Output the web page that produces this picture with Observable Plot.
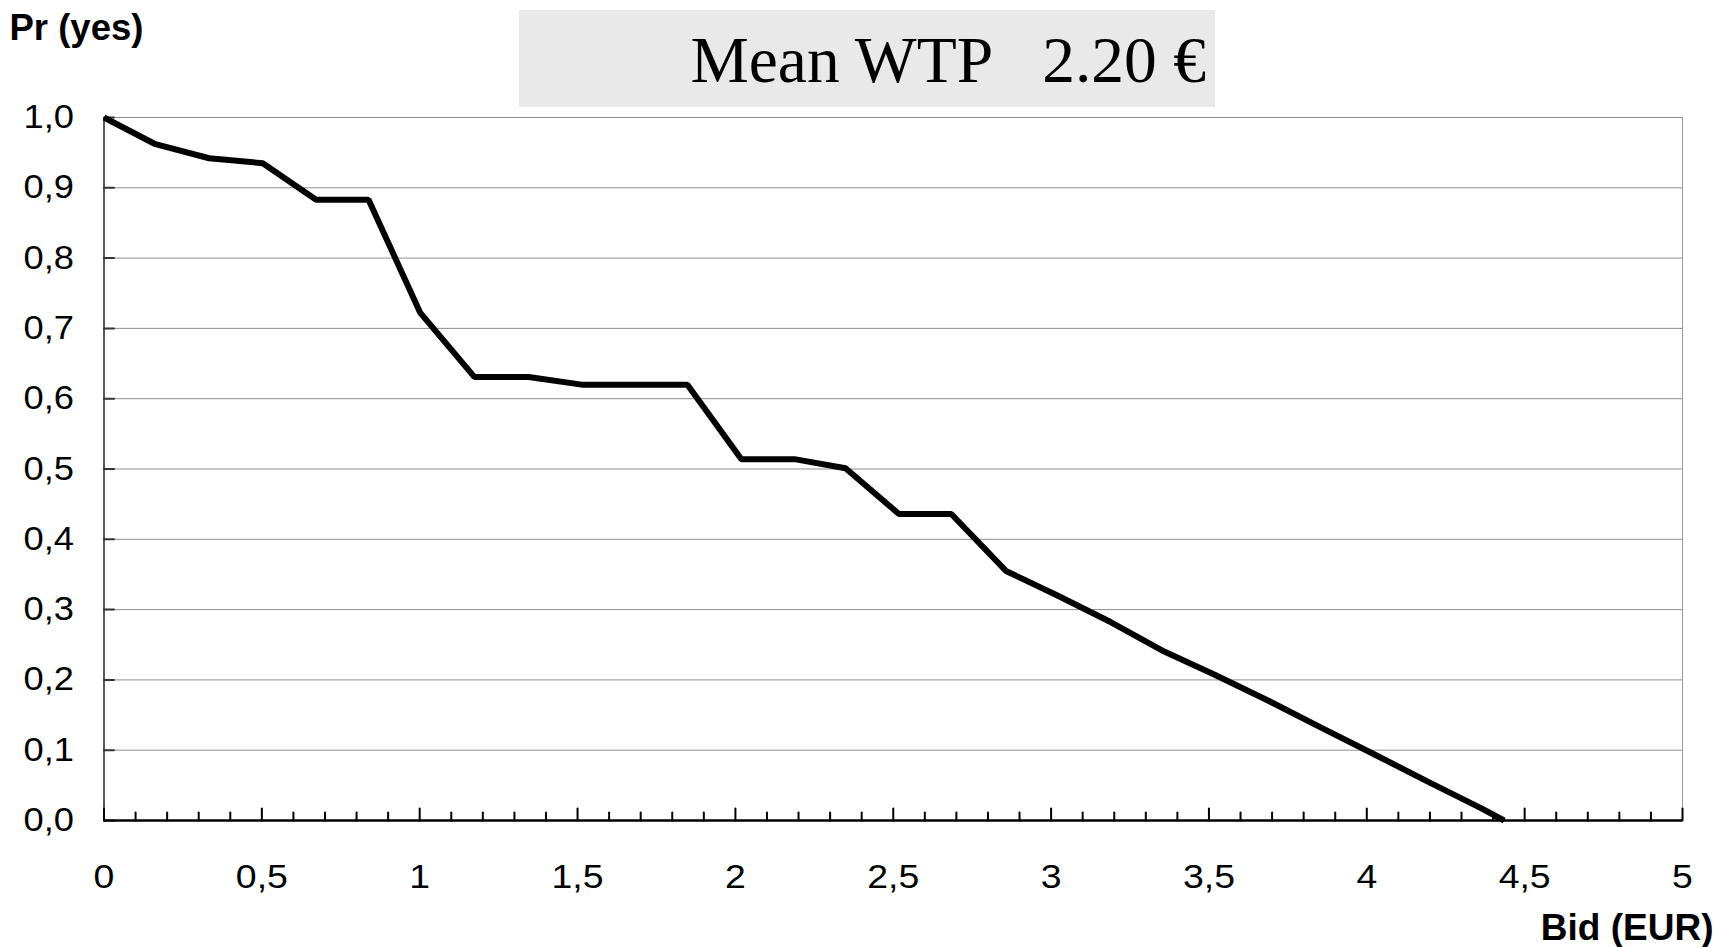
<!DOCTYPE html>
<html>
<head>
<meta charset="utf-8">
<script src="https://cdn.jsdelivr.net/npm/d3@7"></script>
<script src="https://cdn.jsdelivr.net/npm/@observablehq/plot@0.6"></script>
<style>
  html, body { margin: 0; padding: 0; background: #fff; }
  #wrap { position: relative; width: 1713px; height: 947px; overflow: hidden; }
  #title { position: absolute; left: 519px; top: 10px; width: 696px; height: 97px; background: #e9e9e9; }
  #title span { position: absolute; right: 9px; top: 17.6px; font-family: "Liberation Serif", "Times New Roman", serif;
    font-size: 65.5px; line-height: 65px; white-space: pre; color: #000; }
</style>
</head>
<body>
<div id="wrap"><div id="title"><span id="titleText"></span></div></div>
<script>
// ---- data ----
const bids = [0, 0.163, 0.333, 0.503, 0.672, 0.838, 1.002, 1.173, 1.345, 1.513, 1.68, 1.848,
  2.019, 2.187, 2.349, 2.518, 2.684, 2.857, 3.02, 3.19, 3.36, 3.52, 3.69, 3.86, 4.02, 4.19, 4.36, 4.435];
const prYes = [1.0, 0.962, 0.942, 0.935, 0.883, 0.883, 0.722, 0.631, 0.631, 0.620, 0.620, 0.620,
  0.514, 0.514, 0.501, 0.436, 0.436, 0.355, 0.320, 0.282, 0.240, 0.207, 0.170, 0.131, 0.095, 0.056, 0.018, 0.0];

const yTicks = [0, 0.1, 0.2, 0.3, 0.4, 0.5, 0.6, 0.7, 0.8, 0.9, 1.0];
const yTickLabels = ["0,0", "0,1", "0,2", "0,3", "0,4", "0,5", "0,6", "0,7", "0,8", "0,9", "1,0"];
const xTicks = [0, 0.5, 1, 1.5, 2, 2.5, 3, 3.5, 4, 4.5, 5];
const xTickLabels = ["0", "0,5", "1", "1,5", "2", "2,5", "3", "3,5", "4", "4,5", "5"];
const xMinorTicks = d3.range(51).map(i => i / 10).filter(v => Math.abs(v * 2 - Math.round(v * 2)) > 1e-9);

const titleText = "Mean WTP\u00a0\u00a0\u00a02.20 \u20ac";
const yLabel = "Pr (yes)";
const xLabel = "Bid (EUR)";

// ---- build ----
document.getElementById("titleText").textContent = titleText;

const points = bids.map((b, i) => ({bid: b, pr: prYes[i]}));
const yLabMap = new Map(yTicks.map((v, i) => [v, yTickLabels[i]]));
const xLabMap = new Map(xTicks.map((v, i) => [v, xTickLabels[i]]));
const lineShape = {draw(context, l) { context.moveTo(0, 0); context.lineTo(0, -l); }};

const W = 1713, H = 947;
const mL = 103.5, mR = 31, mT = 117, mB = 127;

const chart = Plot.plot({
  width: W, height: H,
  marginLeft: mL, marginRight: mR, marginTop: mT, marginBottom: mB,
  x: {domain: [0, 5]},
  y: {domain: [0, 1]},
  style: {fontFamily: "'Liberation Sans', Arial, sans-serif", background: "white", color: "black"},
  marks: [
    Plot.gridY(yTicks, {stroke: "#8f8f8f", strokeOpacity: 1, strokeWidth: 1}),
    Plot.ruleX([5], {stroke: "#9a9a9a", strokeWidth: 1}),
    Plot.ruleX([0], {stroke: "#222", strokeWidth: 1.5}),
    Plot.vector(yTicks, {y: d => d, frameAnchor: "left", rotate: 90, length: 10, anchor: "start",
      shape: lineShape, stroke: "#333", strokeWidth: 2}),
    Plot.axisY(yTicks, {tickSize: 0, tickPadding: 30, tickFormat: d => yLabMap.get(d), fontSize: 33,
      label: null, fill: "black"}),
    Plot.axisX(xTicks, {tickSize: 0, tickPadding: 43, tickFormat: d => xLabMap.get(d), fontSize: 34,
      label: null, fill: "black"}),
    Plot.line(points, {x: "bid", y: "pr", stroke: "black", strokeWidth: 6,
      strokeLinejoin: "miter", strokeLinecap: "butt"}),
    Plot.ruleY([0], {stroke: "black", strokeWidth: 2.5}),
    Plot.vector(xMinorTicks, {x: d => d, frameAnchor: "bottom", length: 8, anchor: "start",
      shape: lineShape, stroke: "black", strokeWidth: 2}),
    Plot.vector(xTicks, {x: d => d, frameAnchor: "bottom", length: 12, anchor: "start",
      shape: lineShape, stroke: "black", strokeWidth: 2}),
    Plot.text([yLabel], {text: d => d, frameAnchor: "top-left", textAnchor: "start", lineAnchor: "bottom",
      dx: 9 - mL, dy: 39.3 - mT, fontSize: 36.5, fontWeight: "bold", fill: "black"}),
    Plot.text([xLabel], {text: d => d, frameAnchor: "bottom-right", textAnchor: "end", lineAnchor: "bottom",
      dx: 31, dy: 939 - (H - mB), fontSize: 37, fontWeight: "bold", fill: "black"})
  ]
});

// slightly widen tick label glyphs (the reference's digits are a little wide)
chart.querySelectorAll('g[aria-label="x-axis tick label"] text, g[aria-label="y-axis tick label"] text').forEach(t => {
  const tr = t.getAttribute("transform");
  if (tr) t.setAttribute("transform", tr + " scale(1.1,1)");
});

document.getElementById("wrap").insertBefore(chart, document.getElementById("title"));
chart.style.position = "absolute";
chart.style.left = "0";
chart.style.top = "0";
</script>
</body>
</html>
